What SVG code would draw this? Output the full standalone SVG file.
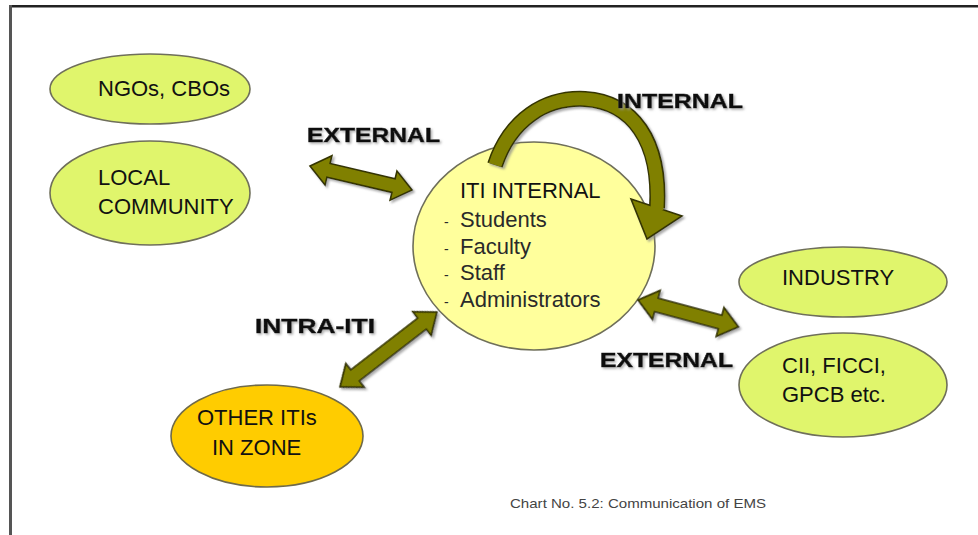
<svg xmlns="http://www.w3.org/2000/svg" width="978" height="535" viewBox="0 0 978 535">
<defs>
<style>
.node{font-family:"Liberation Sans",Arial,sans-serif;font-size:22px;fill:#111}
.item{font-family:"Liberation Sans",Arial,sans-serif;font-size:22px;fill:#2a2a2a}
.lbl{font-family:"Liberation Sans",Arial,sans-serif;font-size:21px;font-weight:bold;fill:#111;stroke:#111;stroke-width:0.5}
.lime{fill:#e0f56c;stroke:#6f6f5a;stroke-width:1.6}
.gold{fill:#ffcc00;stroke:#6f6a4a;stroke-width:1.6}
.core{fill:#ffff9c;stroke:#6f6f5a;stroke-width:1.6}
.arr{fill:#808000;stroke:#353500;stroke-width:1.6;stroke-linejoin:miter}
.cap{font-family:"Liberation Sans",Arial,sans-serif;font-size:13px;fill:#444}
</style>
<filter id="sh" x="-10%" y="-10%" width="130%" height="130%">
<feDropShadow dx="2" dy="2" stdDeviation="1" flood-color="#888" flood-opacity="0.7"/>
</filter>
<filter id="tsh" x="-5%" y="-20%" width="115%" height="150%">
<feDropShadow dx="1.5" dy="1.5" stdDeviation="0.8" flood-color="#999" flood-opacity="0.8"/>
</filter>
</defs>
<rect width="978" height="535" fill="#fff"/>
<line x1="9" y1="6.2" x2="978" y2="6.2" stroke="#222" stroke-width="2.6"/>
<line x1="10.5" y1="5" x2="10.5" y2="535" stroke="#555" stroke-width="3"/>

<g id="ngos">
<ellipse class="lime" cx="150" cy="89" rx="100" ry="35"/>
<text class="node" x="98" y="96">NGOs, CBOs</text>
</g>
<g id="local">
<ellipse class="lime" cx="150" cy="193" rx="100" ry="52"/>
<text class="node" x="98" y="185">LOCAL</text>
<text class="node" x="98" y="214">COMMUNITY</text>
</g>
<g id="industry">
<ellipse class="lime" cx="843" cy="282" rx="104" ry="35"/>
<text class="node" x="782" y="285">INDUSTRY</text>
</g>
<g id="cii">
<ellipse class="lime" cx="843" cy="385" rx="104" ry="52"/>
<text class="node" x="782" y="373">CII, FICCI,</text>
<text class="node" x="782" y="402">GPCB etc.</text>
</g>
<g id="other">
<ellipse class="gold" cx="267" cy="436" rx="96" ry="51"/>
<text class="node" x="197" y="425">OTHER ITIs</text>
<text class="node" x="212" y="455">IN ZONE</text>
</g>
<g id="iti">
<ellipse class="core" cx="534" cy="246" rx="121" ry="104"/>
<text class="node" x="460" y="198">ITI INTERNAL</text>
<text class="item" y="227"><tspan x="444" font-size="14">-</tspan><tspan x="460">Students</tspan></text>
<text class="item" y="254"><tspan x="444" font-size="14">-</tspan><tspan x="460">Faculty</tspan></text>
<text class="item" y="280"><tspan x="444" font-size="14">-</tspan><tspan x="460">Staff</tspan></text>
<text class="item" y="307"><tspan x="444" font-size="14">-</tspan><tspan x="460">Administrators</tspan></text>
</g>

<g id="connectors" filter="url(#sh)">
<polygon class="arr" transform="translate(310,166) rotate(13.2)" points="0,0 19,-15 19,-7 85.8,-7 85.8,-15 104.8,0 85.8,15 85.8,7 19,7 19,15"/>
<polygon class="arr" transform="translate(340,387) rotate(-37.7)" points="0,0 19,-15 19,-7 103.6,-7 103.6,-15 122.6,0 103.6,15 103.6,7 19,7 19,15"/>
<polygon class="arr" transform="translate(638,300) rotate(15)" points="0,0 19,-15 19,-7 85,-7 85,-15 104,0 85,15 85,7 19,7 19,15"/>
<path d="M 495 165 C 510 120, 545 97, 585 99 C 632 102, 661 140, 657 208" fill="none" stroke="#353500" stroke-width="16"/>
<polygon class="arr" points="631,199 682,216 647,239"/>
<path d="M 495 165 C 510 120, 545 97, 585 99 C 632 102, 661 140, 657 210" fill="none" stroke="#808000" stroke-width="13"/>
</g>

<g id="labels" filter="url(#tsh)">
<text class="lbl" x="307" y="142" textLength="133" lengthAdjust="spacingAndGlyphs">EXTERNAL</text>
<text class="lbl" x="617" y="108" textLength="126" lengthAdjust="spacingAndGlyphs">INTERNAL</text>
<text class="lbl" x="255" y="333" textLength="120" lengthAdjust="spacingAndGlyphs">INTRA-ITI</text>
<text class="lbl" x="600" y="367" textLength="133" lengthAdjust="spacingAndGlyphs">EXTERNAL</text>
</g>
<text class="cap" x="510" y="508" textLength="256" lengthAdjust="spacingAndGlyphs">Chart No. 5.2: Communication of EMS</text>
</svg>
